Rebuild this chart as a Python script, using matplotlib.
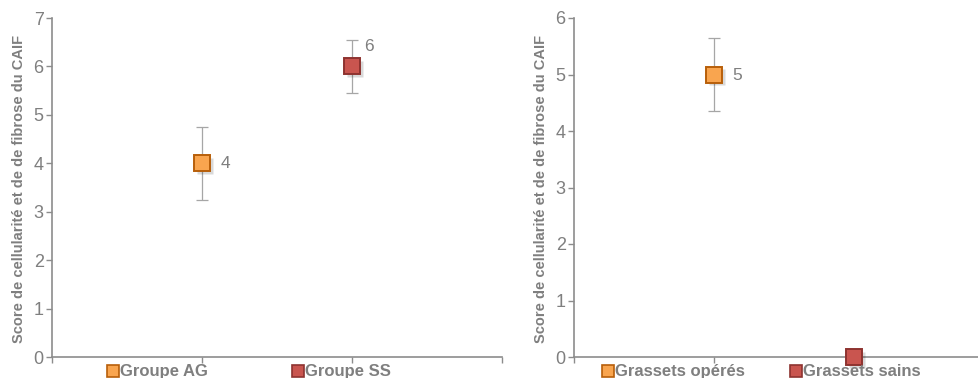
import matplotlib.pyplot as plt
from matplotlib.lines import Line2D

plt.rcParams['font.family'] = ['Liberation Sans', 'DejaVu Sans']

# données
groupes_1 = ['Groupe AG', 'Groupe SS']
scores_1 = [4, 6]
erreurs_1 = [0.75, 0.55]

groupes_2 = ['Grassets opérés', 'Grassets sains']
scores_2 = [5, 0]
erreurs_2 = [0.65, 0]

couleurs = ['#F9A54F', '#C9554F']
bords = ['#B85F0A', '#8E3330']

gris = '#7F7F7F'
label_y = 'Score de cellularité et de de fibrose du CAIF'

fig = plt.figure(figsize=(9.79, 3.78), dpi=100)
ax1 = fig.add_axes([52 / 979, 21 / 378, 450 / 979, 339 / 378])
ax2 = fig.add_axes([574 / 979, 21 / 378, 420 / 979, 339 / 378])


def panneau(ax, groupes, scores, erreurs, ymax, etiquettes, leg_x, colsp):
    for i, (g, s, e) in enumerate(zip(groupes, scores, erreurs)):
        x = i + 1
        if e > 0:
            ax.errorbar(x, s, yerr=e, fmt='none', ecolor='#A6A6A6',
                        elinewidth=0.9, capsize=4, capthick=0.9, zorder=2)
        # ombre
        ax.plot(x + 0.02, s - ymax * 0.008, marker='s', ms=12, color='#000000',
                alpha=0.15, mec='none', zorder=3, clip_on=False)
        ax.plot(x, s, marker='s', ms=11.5, mfc=couleurs[i], mec=bords[i],
                mew=1.4, zorder=4, clip_on=False)
    for i, (dx, dy) in etiquettes.items():
        ax.annotate(str(scores[i]), (i + 1, scores[i]), xytext=(dx, dy),
                    textcoords='offset points', ha='center', va='center',
                    fontsize=12.5, color=gris)

    ax.set_xlim(0, 3)
    ax.set_ylim(0, ymax)
    ax.set_xticks([0, 1, 2, 3])
    ax.set_xticklabels([])
    ax.set_yticks(range(ymax + 1))
    for sp in ['top', 'right']:
        ax.spines[sp].set_visible(False)
    for sp in ['left', 'bottom']:
        ax.spines[sp].set_color('#8C8C8C')
        ax.spines[sp].set_linewidth(1.2)
    ax.tick_params(axis='both', color='#8C8C8C', width=1.0, length=4,
                   labelsize=13, labelcolor=gris, pad=2)
    ax.set_ylabel(label_y, fontsize=10.5, fontweight='bold', color=gris)
    ax.yaxis.set_label_coords(-0.058 if ymax == 7 else -0.062, 0.495)

    poignees = [Line2D([], [], ls='none', marker='s', ms=9, mfc=couleurs[i],
                       mec=bords[i], mew=1.2) for i in range(2)]
    leg = fig.legend(poignees, groupes, loc='center left',
                     bbox_to_anchor=(leg_x, 0.018), ncol=2, frameon=False,
                     handlelength=0.6, handletextpad=0.2, columnspacing=colsp,
                     borderpad=0, borderaxespad=0)
    for t in leg.get_texts():
        t.set_fontsize(12)
        t.set_fontweight('bold')
        t.set_color(gris)


panneau(ax1, groupes_1, scores_1, erreurs_1, 7, {0: (17, 0), 1: (12, 14)},
        109 / 979, 6.2)
panneau(ax2, groupes_2, scores_2, erreurs_2, 6, {0: (17, -1)},
        604 / 979, 3.4)

fig.savefig('out.png', dpi=100)
